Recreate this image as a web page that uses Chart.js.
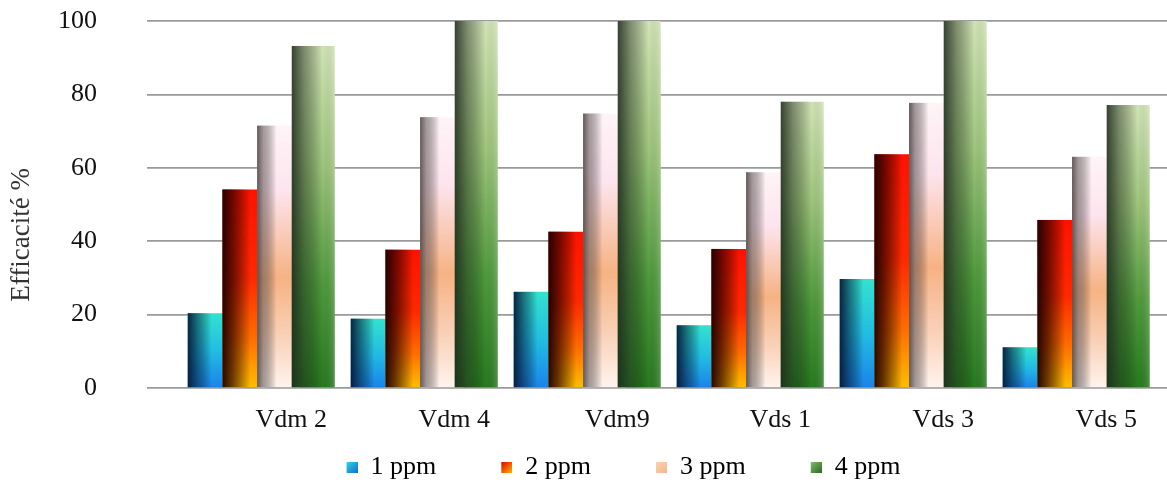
<!DOCTYPE html>
<html>
<head>
<meta charset="utf-8">
<script src="https://cdn.jsdelivr.net/npm/chart.js@4/dist/chart.umd.min.js"></script>
<style>
  html, body { margin: 0; padding: 0; background: #fff; }
  #wrap { width: 1167px; height: 493px; position: relative; }
</style>
</head>
<body>
<div id="wrap"><canvas id="efficacite"></canvas></div>
<script>
// Data
const categories = ["Vdm 2", "Vdm 4", "Vdm9", "Vds 1", "Vds 3", "Vds 5"];
const seriesNames = ["1 ppm", "2 ppm", "3 ppm", "4 ppm"];
const ppm1 = [20.4, 18.9, 26.2, 17.1, 29.7, 11.1];
const ppm2 = [54.1, 37.7, 42.6, 37.9, 63.7, 45.8];
const ppm3 = [71.5, 73.8, 74.8, 58.8, 77.7, 63.0];
const ppm4 = [93.2, 100, 100, 78.0, 100, 77.1];
const yTicks = [0, 20, 40, 60, 80, 100];
const yTitle = "Efficacité %";

const serif = "'Liberation Serif', 'Times New Roman', serif";

// vertical fill + horizontal shading for each series
const shades = [
    {
        v: [[0, "#33e2cf"], [0.5, "#22bde2"], [1, "#1a84ea"]],
        h: [[0, "rgba(4,22,52,0.92)"], [0.25, "rgba(4,22,52,0.5)"], [0.55, "rgba(0,0,0,0)"], [0.85, "rgba(0,0,0,0)"], [1, "rgba(0,20,60,0.15)"]],
        swatch: [[0, "#2fd8e0"], [1, "#1470d0"]],
    },
    {
        v: [[0, "#ff1200"], [0.45, "#ff2800"], [0.75, "#ff6c00"], [1, "#ffbc00"]],
        h: [[0, "rgba(25,0,0,0.95)"], [0.22, "rgba(40,0,0,0.7)"], [0.65, "rgba(0,0,0,0)"], [1, "rgba(0,0,0,0)"]],
        swatch: [[0, "#e00000"], [1, "#ffb000"]],
    },
    {
        v: [[0, "#fff4f7"], [0.25, "#fde4ee"], [0.58, "#f6b284"], [0.8, "#f9d0b6"], [1, "#fff3ee"]],
        h: [[0, "rgba(70,60,60,0.85)"], [0.15, "rgba(90,80,80,0.55)"], [0.45, "rgba(0,0,0,0)"], [1, "rgba(0,0,0,0)"]],
        swatch: [[0, "#fbd2b4"], [1, "#f4b88c"]],
    },
    {
        v: [[0, "#d2e4b6"], [0.35, "#9ec57c"], [0.7, "#4f9a3c"], [1, "#287a20"]],
        h: [[0, "rgba(28,38,28,0.85)"], [0.3, "rgba(28,38,28,0.45)"], [0.72, "rgba(0,0,0,0)"], [1, "rgba(255,255,255,0.18)"]],
        swatch: [[0, "#8cba70"], [1, "#2a6e22"]],
    },
];

function addStops(grad, stops) {
    stops.forEach(([o, c]) => grad.addColorStop(o, c));
    return grad;
}

// legend swatch: small square at the right end of a wider transparent box
function makeSwatch(stops) {
    const c = document.createElement("canvas");
    c.width = 58;
    c.height = 11;
    const g = c.getContext("2d");
    g.fillStyle = addStops(g.createLinearGradient(47, 0, 58, 11), stops);
    g.fillRect(47, 0, 11, 11);
    return c;
}

// bars are drawn in series order so later series sit on top, like the original
const barShading = {
    id: "barShading",
    beforeDatasetsDraw(chart) {
        const ctx = chart.ctx;
        const area = chart.chartArea;
        ctx.save();
        ctx.beginPath();
        ctx.rect(area.left, area.top, area.right - area.left, area.bottom - area.top);
        ctx.clip();
        chart.data.datasets.forEach((ds, i) => {
            const meta = chart.getDatasetMeta(i);
            meta.data.forEach((bar) => {
                const { x, y, base, width } = bar.getProps(["x", "y", "base", "width"], true);
                const left = x - width / 2;
                const top = Math.min(y, base);
                const h = Math.abs(base - y);
                bar.options.backgroundColor = addStops(ctx.createLinearGradient(0, top, 0, top + h), shades[i].v);
                bar.draw(ctx, area);
                ctx.fillStyle = addStops(ctx.createLinearGradient(left, 0, left + width, 0), shades[i].h);
                ctx.fillRect(left, top, width, h);
            });
        });
        ctx.restore();
        return false;
    },
};

const seriesValues = [ppm1, ppm2, ppm3, ppm4];

new Chart(document.getElementById("efficacite"), {
    type: "bar",
    data: {
        datasets: seriesNames.map((name, i) => ({
            label: name,
            data: seriesValues[i].map((v, k) => ({ x: k, y: v })),
            backgroundColor: shades[i].swatch[0][1],
            borderWidth: 0,
            categoryPercentage: 0.851,
            barPercentage: 1.24,
        })),
    },
    options: {
        responsive: true,
        maintainAspectRatio: false,
        animation: false,
        events: [],
        layout: { padding: { left: 0, right: -33, top: 21, bottom: 3 } },
        scales: {
            x: {
                type: "linear",
                offset: false,
                min: -0.701,
                max: 5.557,
                afterBuildTicks: (scale) => {
                    scale.ticks = categories.map((c, i) => ({ value: i }));
                },
                afterFit: (scale) => {
                    scale.height = 48;
                },
                grid: { display: false, drawTicks: false },
                border: { display: false },
                ticks: {
                    callback: (value) => categories[value],
                    labelOffset: 30,
                    padding: 17,
                    maxRotation: 0,
                    autoSkip: false,
                    color: "#111",
                    font: { family: serif, size: 26 },
                },
            },
            y: {
                min: 0,
                max: 100,
                afterBuildTicks: (scale) => {
                    scale.ticks = yTicks.map((v) => ({ value: v }));
                },
                afterFit: (scale) => {
                    scale.width = 147;
                    scale.paddingTop = 0;
                    scale.paddingBottom = 0;
                },
                grid: { color: "#9a9a9a", lineWidth: 1.7, drawTicks: false },
                border: { display: false },
                ticks: {
                    padding: 50,
                    color: "#111",
                    font: { family: serif, size: 26 },
                },
                title: {
                    display: true,
                    // trailing blanks push the centred title down, as in the original
                    text: yTitle + "\u00a0".repeat(9),
                    color: "#333",
                    padding: { top: 6, bottom: 21 },
                    font: { family: serif, size: 27 },
                },
            },
        },
        plugins: {
            tooltip: { enabled: false },
            legend: {
                position: "bottom",
                labels: {
                    usePointStyle: true,
                    pointStyleWidth: 58,
                    padding: 18,
                    color: "#111",
                    font: { family: serif, size: 26 },
                    generateLabels: (chart) =>
                        chart.data.datasets.map((ds, i) => ({
                            text: ds.label,
                            pointStyle: makeSwatch(shades[i].swatch),
                            fillStyle: "transparent",
                            strokeStyle: "transparent",
                            lineWidth: 0,
                            hidden: false,
                            datasetIndex: i,
                        })),
                },
            },
        },
    },
    plugins: [barShading],
});
</script>
</body>
</html>
